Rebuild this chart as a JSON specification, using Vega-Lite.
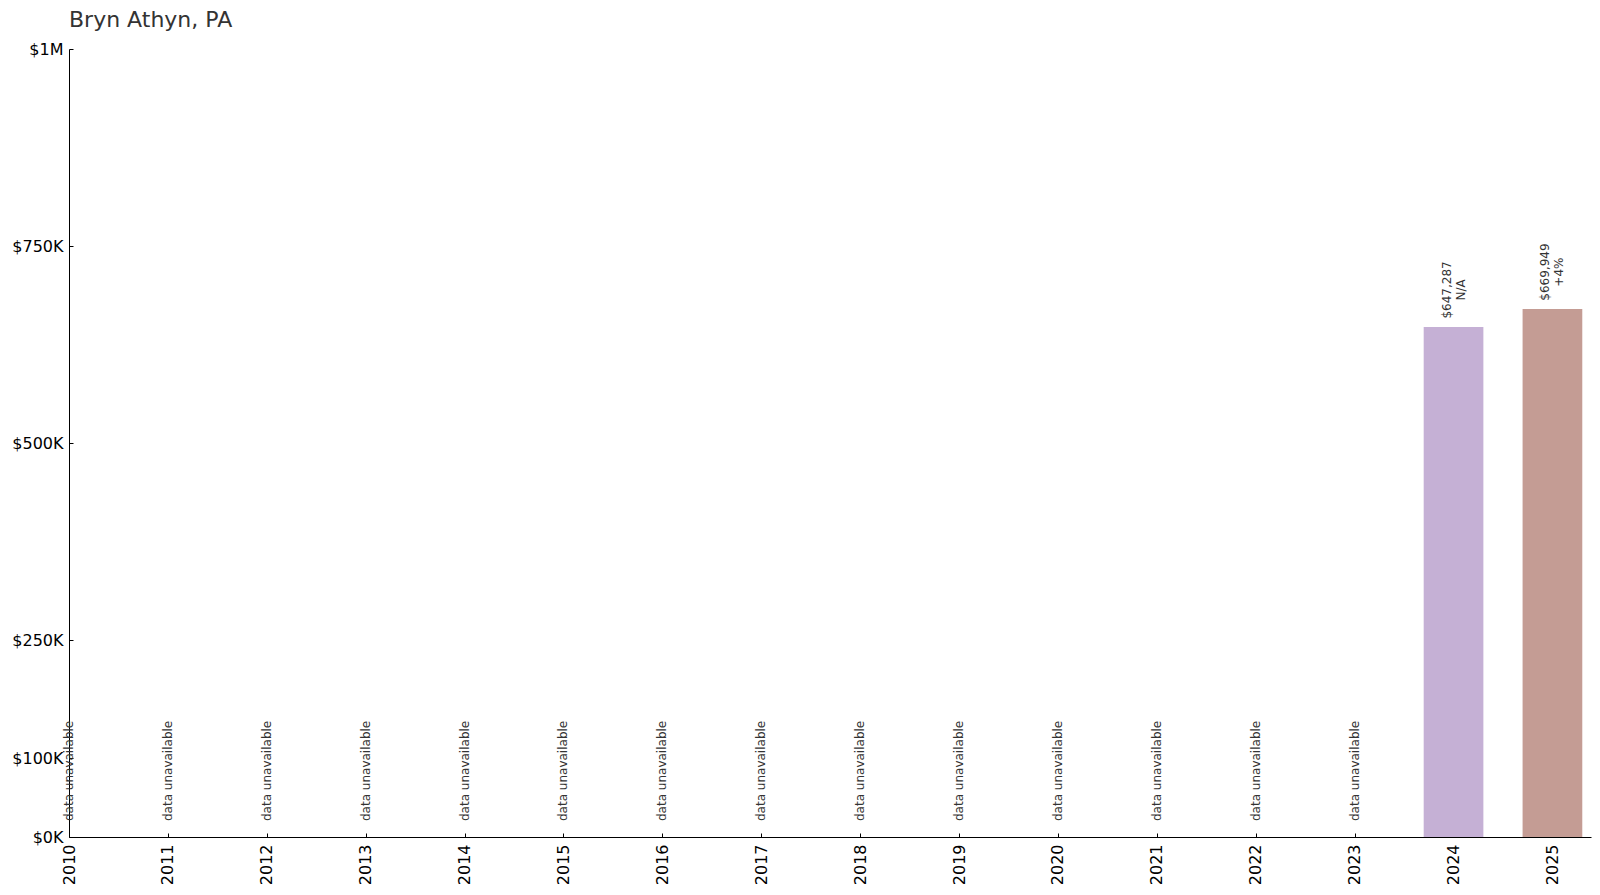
{
  "$schema": "https://vega.github.io/schema/vega-lite/v6.json",
  "autosize": {"type": "none"},
  "padding": {"left": 69, "top": 49, "right": 9, "bottom": 58},
  "width": 1522,
  "height": 788,
  "background": "white",
  "title": {
    "text": "Bryn Athyn, PA",
    "anchor": "start",
    "frame": "group",
    "font": "DejaVu Sans",
    "fontSize": 22,
    "fontWeight": "normal",
    "color": "#333333",
    "offset": 9
  },
  "config": {
    "view": {"stroke": null},
    "font": "DejaVu Sans"
  },
  "data": {
    "values": [
      {"year": 2010, "value": null, "status": "data unavailable", "label": ""},
      {"year": 2011, "value": null, "status": "data unavailable", "label": ""},
      {"year": 2012, "value": null, "status": "data unavailable", "label": ""},
      {"year": 2013, "value": null, "status": "data unavailable", "label": ""},
      {"year": 2014, "value": null, "status": "data unavailable", "label": ""},
      {"year": 2015, "value": null, "status": "data unavailable", "label": ""},
      {"year": 2016, "value": null, "status": "data unavailable", "label": ""},
      {"year": 2017, "value": null, "status": "data unavailable", "label": ""},
      {"year": 2018, "value": null, "status": "data unavailable", "label": ""},
      {"year": 2019, "value": null, "status": "data unavailable", "label": ""},
      {"year": 2020, "value": null, "status": "data unavailable", "label": ""},
      {"year": 2021, "value": null, "status": "data unavailable", "label": ""},
      {"year": 2022, "value": null, "status": "data unavailable", "label": ""},
      {"year": 2023, "value": null, "status": "data unavailable", "label": ""},
      {"year": 2024, "value": 647287, "status": "ok", "label": "$647,287\nN/A", "color": "#c5b0d5"},
      {"year": 2025, "value": 669949, "status": "ok", "label": "$669,949\n+4%", "color": "#c49c94"}
    ]
  },
  "encoding": {
    "x": {
      "field": "year",
      "type": "quantitative",
      "scale": {"domain": [2010, 2025.39], "nice": false, "zero": false, "padding": 0},
      "axis": {
        "title": null,
        "values": [2010, 2011, 2012, 2013, 2014, 2015, 2016, 2017, 2018, 2019, 2020, 2021, 2022, 2023, 2024, 2025],
        "format": "d",
        "labelAngle": 270,
        "labelFontSize": 16,
        "labelColor": "#000000",
        "labelPadding": 11,
        "labelFlush": false,
        "labelOverlap": false,
        "grid": false,
        "domainColor": "#000000",
        "tickColor": "#000000",
        "tickSize": -4,
        "domainWidth": 1
      }
    }
  },
  "layer": [
    {
      "transform": [{"filter": "datum.status === 'ok'"}],
      "mark": {"type": "bar", "size": 59.7},
      "encoding": {
        "y": {
          "field": "value",
          "type": "quantitative",
          "scale": {"domain": [0, 1000000], "nice": false},
          "axis": {
            "title": null,
            "values": [0, 100000, 250000, 500000, 750000, 1000000],
            "labelExpr": "datum.value >= 1000000 ? '$' + (datum.value/1000000) + 'M' : '$' + (datum.value/1000) + 'K'",
            "labelFontSize": 16,
            "labelColor": "#000000",
            "labelPadding": 10,
            "labelFlush": false,
            "grid": false,
            "domainColor": "#000000",
            "tickColor": "#000000",
            "tickSize": -4
          }
        },
        "color": {"field": "color", "type": "nominal", "scale": null}
      }
    },
    {
      "transform": [{"filter": "datum.status === 'ok'"}],
      "mark": {
        "type": "text",
        "angle": 270,
        "align": "center",
        "baseline": "middle",
        "dx": 37,
        "dy": -7,
        "fontSize": 12,
        "lineHeight": 14,
        "lineBreak": "\n",
        "color": "#333333"
      },
      "encoding": {
        "y": {"field": "value", "type": "quantitative"},
        "text": {"field": "label"}
      }
    },
    {
      "transform": [{"filter": "datum.status !== 'ok'"}],
      "mark": {
        "type": "text",
        "angle": 270,
        "align": "left",
        "baseline": "middle",
        "dx": 16,
        "fontSize": 12,
        "color": "#333333"
      },
      "encoding": {
        "y": {"datum": 0, "type": "quantitative"},
        "text": {"field": "status"}
      }
    }
  ]
}
